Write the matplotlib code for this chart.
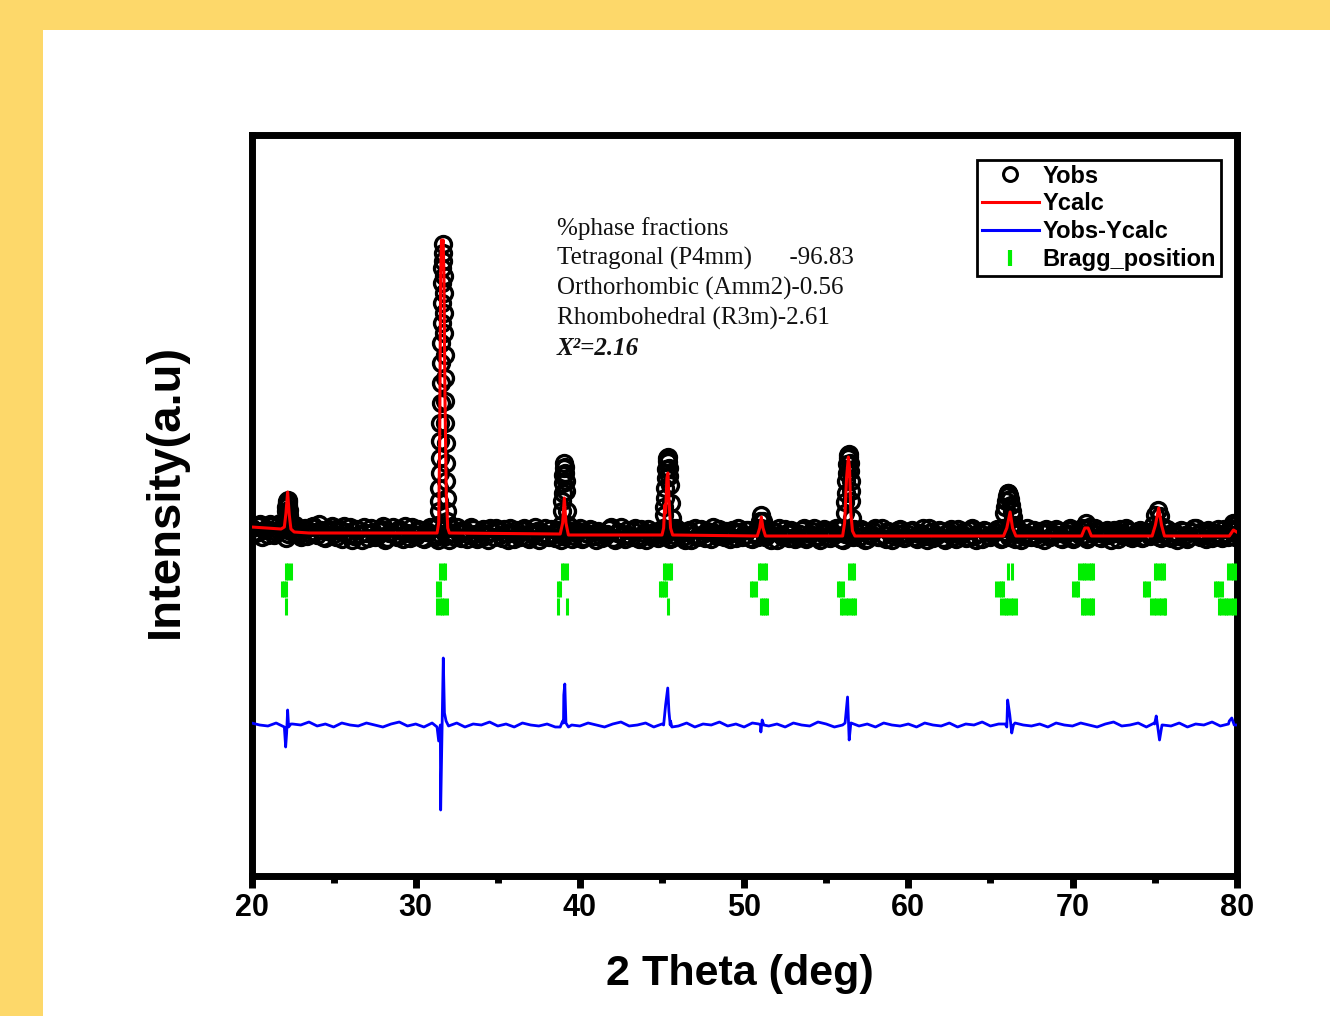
import numpy as np
import matplotlib
matplotlib.use("Agg")
import matplotlib.pyplot as plt
from matplotlib.lines import Line2D
from matplotlib.patches import Rectangle
from matplotlib import font_manager

# ---------------- data (arbitrary intensity units) ----------------
# observed background points, 0.25 deg step starting at 20.000 deg
obs_bg_y = [
    345, 340, 349, 343, 338, 347, 341, 350, 344, 339, 346, 342, 336, 345, 340, 347, 338, 343, 335, 344,
    339, 345, 334, 341, 346, 337, 343, 333, 340, 345, 336, 342, 347, 335, 341, 338, 344, 334, 340, 346,
    337, 343, 334, 341, 345, 336, 339, 344, 333, 340, 346, 335, 342, 338, 344, 334, 341, 337, 345, 336,
    342, 335, 340, 345, 334, 339, 343, 336, 341, 346, 333, 340, 338, 344, 335, 341, 337, 343, 334, 340,
    345, 336, 339, 343, 333, 341, 337, 344, 335, 340, 346, 334, 338, 342, 336, 344, 333, 339, 341, 335,
    340, 344, 334, 338, 343, 336, 341, 333, 345, 337, 339, 342, 334, 340, 344, 336, 338, 343, 335, 341,
    337, 343, 334, 339, 345, 336, 340, 342, 333, 338, 344, 335, 341, 337, 343, 334, 339, 345, 336, 340,
    342, 335, 338, 344, 333, 340, 337, 343, 336, 341, 334, 339, 345, 336, 338, 342, 333, 340, 344, 335,
    339, 343, 334, 340, 337, 345, 335, 338, 342, 333, 341, 336, 344, 339, 335, 343, 337, 340, 334, 342,
    336, 341, 344, 335, 339, 343, 334, 340, 337, 345, 336, 338, 342, 333, 341, 337, 344, 335, 339, 343,
    334, 340, 337, 344, 336, 339, 342, 335, 341, 338, 343, 334, 340, 345, 336, 338, 342, 335, 341, 337,
    343, 336, 339, 344, 335, 340, 337, 342, 334, 341, 345, 336, 338, 343, 335, 340, 337, 344, 336, 342,
    339,
]
# observed background points, 0.25 deg step starting at 20.125 deg
obs_bg2_y = [
    341, 347, 336, 344, 349, 338, 343, 346, 335, 342, 348, 339, 344, 337, 346, 341, 349, 336, 342, 347,
    336, 342, 347, 338, 333, 344, 339, 346, 335, 341, 337, 344, 333, 340, 346, 336, 342, 347, 335, 339,
    344, 335, 341, 346, 338, 333, 343, 337, 345, 336, 340, 343, 334, 346, 339, 336, 344, 333, 341, 345,
    338, 344, 333, 340, 343, 336, 345, 334, 338, 342, 337, 345, 336, 339, 343, 333, 341, 346, 337, 342,
    334, 340, 344, 337, 342, 335, 339, 346, 333, 341, 337, 343, 336, 345, 334, 340, 344, 336, 338, 343,
    337, 342, 335, 345, 339, 333, 343, 338, 336, 344, 335, 341, 346, 337, 339, 342, 334, 341, 345, 336,
    343, 335, 340, 336, 344, 338, 333, 341, 345, 336, 340, 343, 334, 339, 345, 336, 342, 337, 333, 344,
    336, 341, 345, 334, 339, 343, 336, 340, 344, 333, 338, 342, 336, 345, 334, 341, 337, 343, 339, 336,
    342, 336, 339, 345, 333, 341, 337, 343, 335, 340, 344, 334, 338, 342, 336, 345, 333, 340, 343, 337,
    339, 344, 334, 341, 336, 342, 345, 333, 340, 337, 343, 335, 341, 344, 336, 339, 342, 334, 340, 345,
    336, 343, 338, 334, 341, 345, 336, 339, 343, 333, 340, 344, 337, 342, 335, 340, 343, 336, 341, 338,
    340, 335, 344, 337, 341, 333, 343, 338, 336, 345, 339, 342, 334, 341, 337, 344, 335, 340, 343, 336,
]
# observed points on the reflections
obs_pk_x = [
    22.00, 22.05, 22.10, 22.12, 22.15, 22.18, 22.20, 22.22, 22.25, 22.28, 22.30, 22.35, 22.40,
    31.35, 31.40, 31.42, 31.44, 31.46, 31.47, 31.49, 31.50, 31.52, 31.53, 31.55, 31.56, 31.58, 31.59,
    31.61, 31.62, 31.64, 31.65, 31.68, 31.70, 31.71, 31.73, 31.74, 31.76, 31.77, 31.79, 31.80, 31.82,
    31.84, 31.86, 31.88, 31.90, 31.93,
    38.85, 38.90, 38.93, 38.95, 38.98, 39.00, 39.03, 39.05, 39.08, 39.10, 39.13, 39.15, 39.20, 39.25,
    45.05, 45.12, 45.15, 45.18, 45.21, 45.24, 45.27, 45.30, 45.33, 45.36, 45.39, 45.42, 45.45, 45.48,
    45.54, 45.60, 45.66,
    50.85, 50.95, 51.05, 51.15, 51.25,
    56.05, 56.12, 56.15, 56.18, 56.21, 56.24, 56.27, 56.30, 56.33, 56.36, 56.39, 56.42, 56.45, 56.48,
    56.51, 56.54, 56.60, 56.67,
    65.75, 65.85, 65.90, 65.95, 66.00, 66.05, 66.10, 66.15, 66.20, 66.25, 66.30, 66.35, 66.45, 66.55,
    70.60, 70.80, 71.00,
    74.90, 75.05, 75.20, 75.35, 75.50,
    79.60, 79.75, 79.90,
]
obs_pk_y = [
    345, 352, 362, 366, 370, 372, 373, 371, 368, 363, 358, 350, 344,
    348, 362, 372, 385, 400, 415, 432, 450, 470, 490, 510, 530, 550, 570,
    590, 605, 620, 629, 612, 597, 580, 560, 540, 518, 495, 472, 450, 430,
    410, 392, 375, 362, 352,
    348, 362, 372, 380, 390, 398, 405, 410, 406, 400, 392, 382, 362, 348,
    345, 358, 366, 375, 385, 395, 404, 412, 415, 416, 411, 405, 397, 388,
    370, 355, 345,
    345, 352, 358, 352, 344,
    345, 360, 371, 380, 392, 400, 409, 415, 418, 419, 416, 410, 402, 392,
    382, 372, 355, 344,
    345, 360, 366, 372, 377, 380, 380, 378, 374, 368, 362, 356, 348, 342,
    345, 350, 346,
    348, 358, 363, 357, 346,
    345, 350, 348,
]
# calculated profile
calc_x = [20.0, 21.8, 22.0, 22.1, 22.2, 22.3, 22.4, 22.6, 23.5,
          31.3, 31.4, 31.46, 31.52, 31.57, 31.62, 31.67, 31.72, 31.78, 31.86, 31.95, 32.05,
          38.8, 38.95, 39.05, 39.15, 39.3,
          45.0, 45.1, 45.17, 45.22, 45.3, 45.36, 45.43, 45.52, 45.65,
          50.8, 50.95, 51.05, 51.15, 51.3,
          56.0, 56.12, 56.24, 56.35, 56.42, 56.5, 56.6, 56.75,
          65.8, 66.0, 66.2, 66.35, 66.55,
          70.55, 70.75, 70.95, 71.15,
          74.85, 75.05, 75.25, 75.42, 75.6,
          79.55, 79.8, 80.0]
calc_y = [346, 344, 346, 360, 381, 358, 344, 341, 340,
          340, 350, 430, 600, 633, 628, 633, 600, 480, 380, 345, 340,
          339, 350, 375, 350, 338,
          338, 345, 368, 360, 395, 400, 372, 345, 338,
          337, 345, 356, 345, 337,
          337, 350, 395, 416, 405, 360, 342, 337,
          337, 345, 361, 345, 337,
          337, 345, 345, 337,
          337, 348, 365, 348, 337,
          337, 343, 341]
# difference curve, background at 0.5 deg step starting at 20 deg
diff_bg_y = [
    150, 148, 147, 150, 146, 149, 148, 151, 147, 149, 146, 150, 148, 147, 150, 148, 146, 149, 151, 147,
    149, 146, 150, 148, 147, 150, 146, 149, 148, 151, 147, 149, 146, 150, 148, 147, 149, 146, 150, 148,
    147, 150, 148, 146, 149, 151, 147, 148, 150, 146, 149, 148, 147, 150, 146, 149, 148, 151, 147, 149,
    146, 150, 148, 147, 149, 146, 150, 148, 147, 151, 149, 146, 148, 150, 147, 149, 146, 150, 148, 147,
    149, 146, 150, 148, 147, 150, 146, 149, 148, 151, 147, 149, 146, 150, 148, 147, 149, 146, 150, 148,
    147, 150, 148, 146, 149, 151, 147, 148, 150, 146, 149, 148, 147, 150, 146, 149, 148, 151, 147, 149,
    148,
]
diff_pk_x = [22.08, 22.14, 22.2, 22.26, 22.4,
             31.3, 31.4, 31.52, 31.6, 31.68, 31.75, 31.85,
             38.8, 38.95, 39.02, 39.08, 39.15, 39.3,
             45.1, 45.22, 45.35, 45.42, 45.52, 45.6,
             50.9, 51.02, 51.1, 51.2,
             56.15, 56.3, 56.4, 56.52,
             65.9, 66.05, 66.18, 66.3, 66.4,
             74.98, 75.1, 75.3, 75.45,
             79.55, 79.7, 79.85]
diff_pk_y = [126, 140, 163, 146, 149,
             146, 132, 63, 140, 215, 160, 152,
             146, 152, 178, 189, 150, 146,
             148, 168, 185, 162, 152, 146,
             149, 141, 153, 148,
             150, 176, 133, 150,
             149, 173, 158, 140, 148,
             150, 157, 133, 148,
             152, 155, 148]
# Bragg reflection positions (three phases)
bragg_tetragonal = [22.1, 22.25, 22.4, 31.5, 31.65, 31.8, 38.9, 39.05, 39.2,
                    45.1, 45.25, 45.4, 45.55, 50.9, 51.05, 51.2, 51.35,
                    56.4, 56.55, 56.7, 66.1, 66.3,
                    70.4, 70.55, 70.7, 70.85, 71.0, 71.15, 71.25,
                    75.0, 75.15, 75.3, 75.45, 75.6, 79.5, 79.65, 79.8, 79.95]
bragg_orthorhombic = [21.85, 22.0, 22.1, 31.3, 31.45, 38.65, 38.8,
                      44.85, 45.0, 45.15, 45.25, 50.4, 50.55, 50.7,
                      55.7, 55.85, 56.0, 65.35, 65.5, 65.65, 65.75,
                      70.05, 70.2, 70.35, 74.35, 74.5, 74.65,
                      78.65, 78.8, 78.95, 79.1]
bragg_rhombohedral = [22.1, 31.3, 31.45, 31.6, 31.75, 31.9, 38.65, 39.2, 45.35,
                      51.0, 51.15, 51.3, 51.4,
                      55.9, 56.05, 56.2, 56.35, 56.5, 56.65, 56.75,
                      65.65, 65.8, 65.95, 66.1, 66.25, 66.4, 66.55,
                      70.55, 70.7, 70.85, 71.0, 71.15, 71.25,
                      74.8, 74.95, 75.1, 75.25, 75.4, 75.55, 75.65,
                      78.9, 79.05, 79.2, 79.35, 79.5, 79.65, 79.8, 79.95]
phase_text = ["%phase fractions",
              "Tetragonal (P4mm)      -96.83",
              "Orthorhombic (Amm2)-0.56",
              "Rhombohedral (R3m)-2.61"]
chi_text = "X\u00b2=2.16"
legend_labels = ["Yobs", "Ycalc", "Yobs-Ycalc", "Bragg_position"]

# ---------------- figure ----------------
W, H = 1330, 1016
fig = plt.figure(figsize=(W / 100, H / 100), dpi=100)
fig.patch.set_facecolor("#FDD86A")
fig.add_artist(Rectangle((43 / W, 0), 1 - 43 / W, 1 - 30 / H, transform=fig.transFigure,
                         facecolor="white", edgecolor="none", zorder=-10))

ax = fig.add_axes([251.5 / W, 1 - 876 / H, (1236.7 - 251.5) / W, (876 - 135) / H])

obs_bg_x = 20.0 + 0.25 * np.arange(len(obs_bg_y))
obs_bg2_x = 20.125 + 0.25 * np.arange(len(obs_bg2_y))
obs_x = np.concatenate([obs_bg_x, obs_bg2_x, obs_pk_x])
obs_y = np.concatenate([obs_bg_y, obs_bg2_y, obs_pk_y])
ax.plot(obs_x, obs_y, ls="none", marker="o", ms=11.5, mfc="none", mec="black", mew=2.4, zorder=2)

ax.plot(calc_x, calc_y, color="#ff0000", lw=2.2, zorder=3)

diff_bg_x = 20.0 + 0.5 * np.arange(len(diff_bg_y))
dx = np.concatenate([diff_bg_x, diff_pk_x])
dy = np.concatenate([diff_bg_y, diff_pk_y])
order = np.argsort(dx, kind="stable")
ax.plot(dx[order], dy[order], color="#0000ff", lw=2.0, zorder=3)

green = "#00ee00"
for pos, (lo, hi) in zip([bragg_tetragonal, bragg_orthorhombic, bragg_rhombohedral],
                         [(293, 310), (276, 292), (258, 275)]):
    ax.vlines(pos, lo, hi, color=green, lw=2.2, zorder=3)

ax.set_xlim(20, 80)
ax.set_ylim(-3, 738)
ax.set_yticks([])
for s in ax.spines.values():
    s.set_linewidth(5)
ax.set_xticks([20, 30, 40, 50, 60, 70, 80])
ax.set_xticks([25, 35, 45, 55, 65, 75], minor=True)
ax.tick_params(axis="x", which="major", direction="out", length=8.6, width=5, pad=4,
               labelsize=22)
ax.tick_params(axis="x", which="minor", direction="out", length=5, width=5)
for lab in ax.get_xticklabels():
    lab.set_fontfamily("Liberation Sans")
    lab.set_fontweight("bold")

names = {f.name for f in font_manager.fontManager.ttflist}
if "Liberation Sans Narrow" in names:
    yl_family, yl_size = "Liberation Sans Narrow", 40
else:
    yl_family, yl_size = "Liberation Sans", 34

fig.text(740 / W, 1 - 985 / H, "2 Theta (deg)", ha="center", va="baseline",
         fontsize=31, fontweight="bold", family="Liberation Sans")
fig.text(166 / W, 1 - 491 / H, "Intensity(a.u)", rotation=90, ha="center", va="center",
         fontsize=yl_size, fontweight="bold", family=yl_family)

for i, t in enumerate(phase_text):
    fig.text(557 / W, 1 - (235 + 30 * i) / H, t, ha="left", va="baseline",
             fontsize=18, family="Liberation Serif", color="#111111")
fig.text(557 / W, 1 - 355 / H, chi_text, ha="left", va="baseline",
         fontsize=18, family="Liberation Serif", style="italic", fontweight="bold", color="#111111")

handles = [
    Line2D([], [], ls="none", marker="o", ms=10, mfc="none", mec="black", mew=2.2),
    Line2D([], [], color="#ff0000", lw=2.2),
    Line2D([], [], color="#0000ff", lw=2.2),
    Line2D([], [], ls="none", marker="|", ms=12, mec=green, mew=3),
]
leg = ax.legend(handles, legend_labels, loc="upper right",
                bbox_to_anchor=((1221 - 251.5) / 985.2, (876 - 160) / 741),
                borderaxespad=0, frameon=True, fancybox=False, framealpha=1,
                edgecolor="black", borderpad=0.2, labelspacing=0.2,
                handlelength=2.4, handletextpad=0.17,
                prop={"family": "Liberation Sans", "weight": "bold", "size": 17})
leg.get_frame().set_linewidth(2.0)

fig.savefig("out.png", dpi=100, facecolor=fig.get_facecolor())
